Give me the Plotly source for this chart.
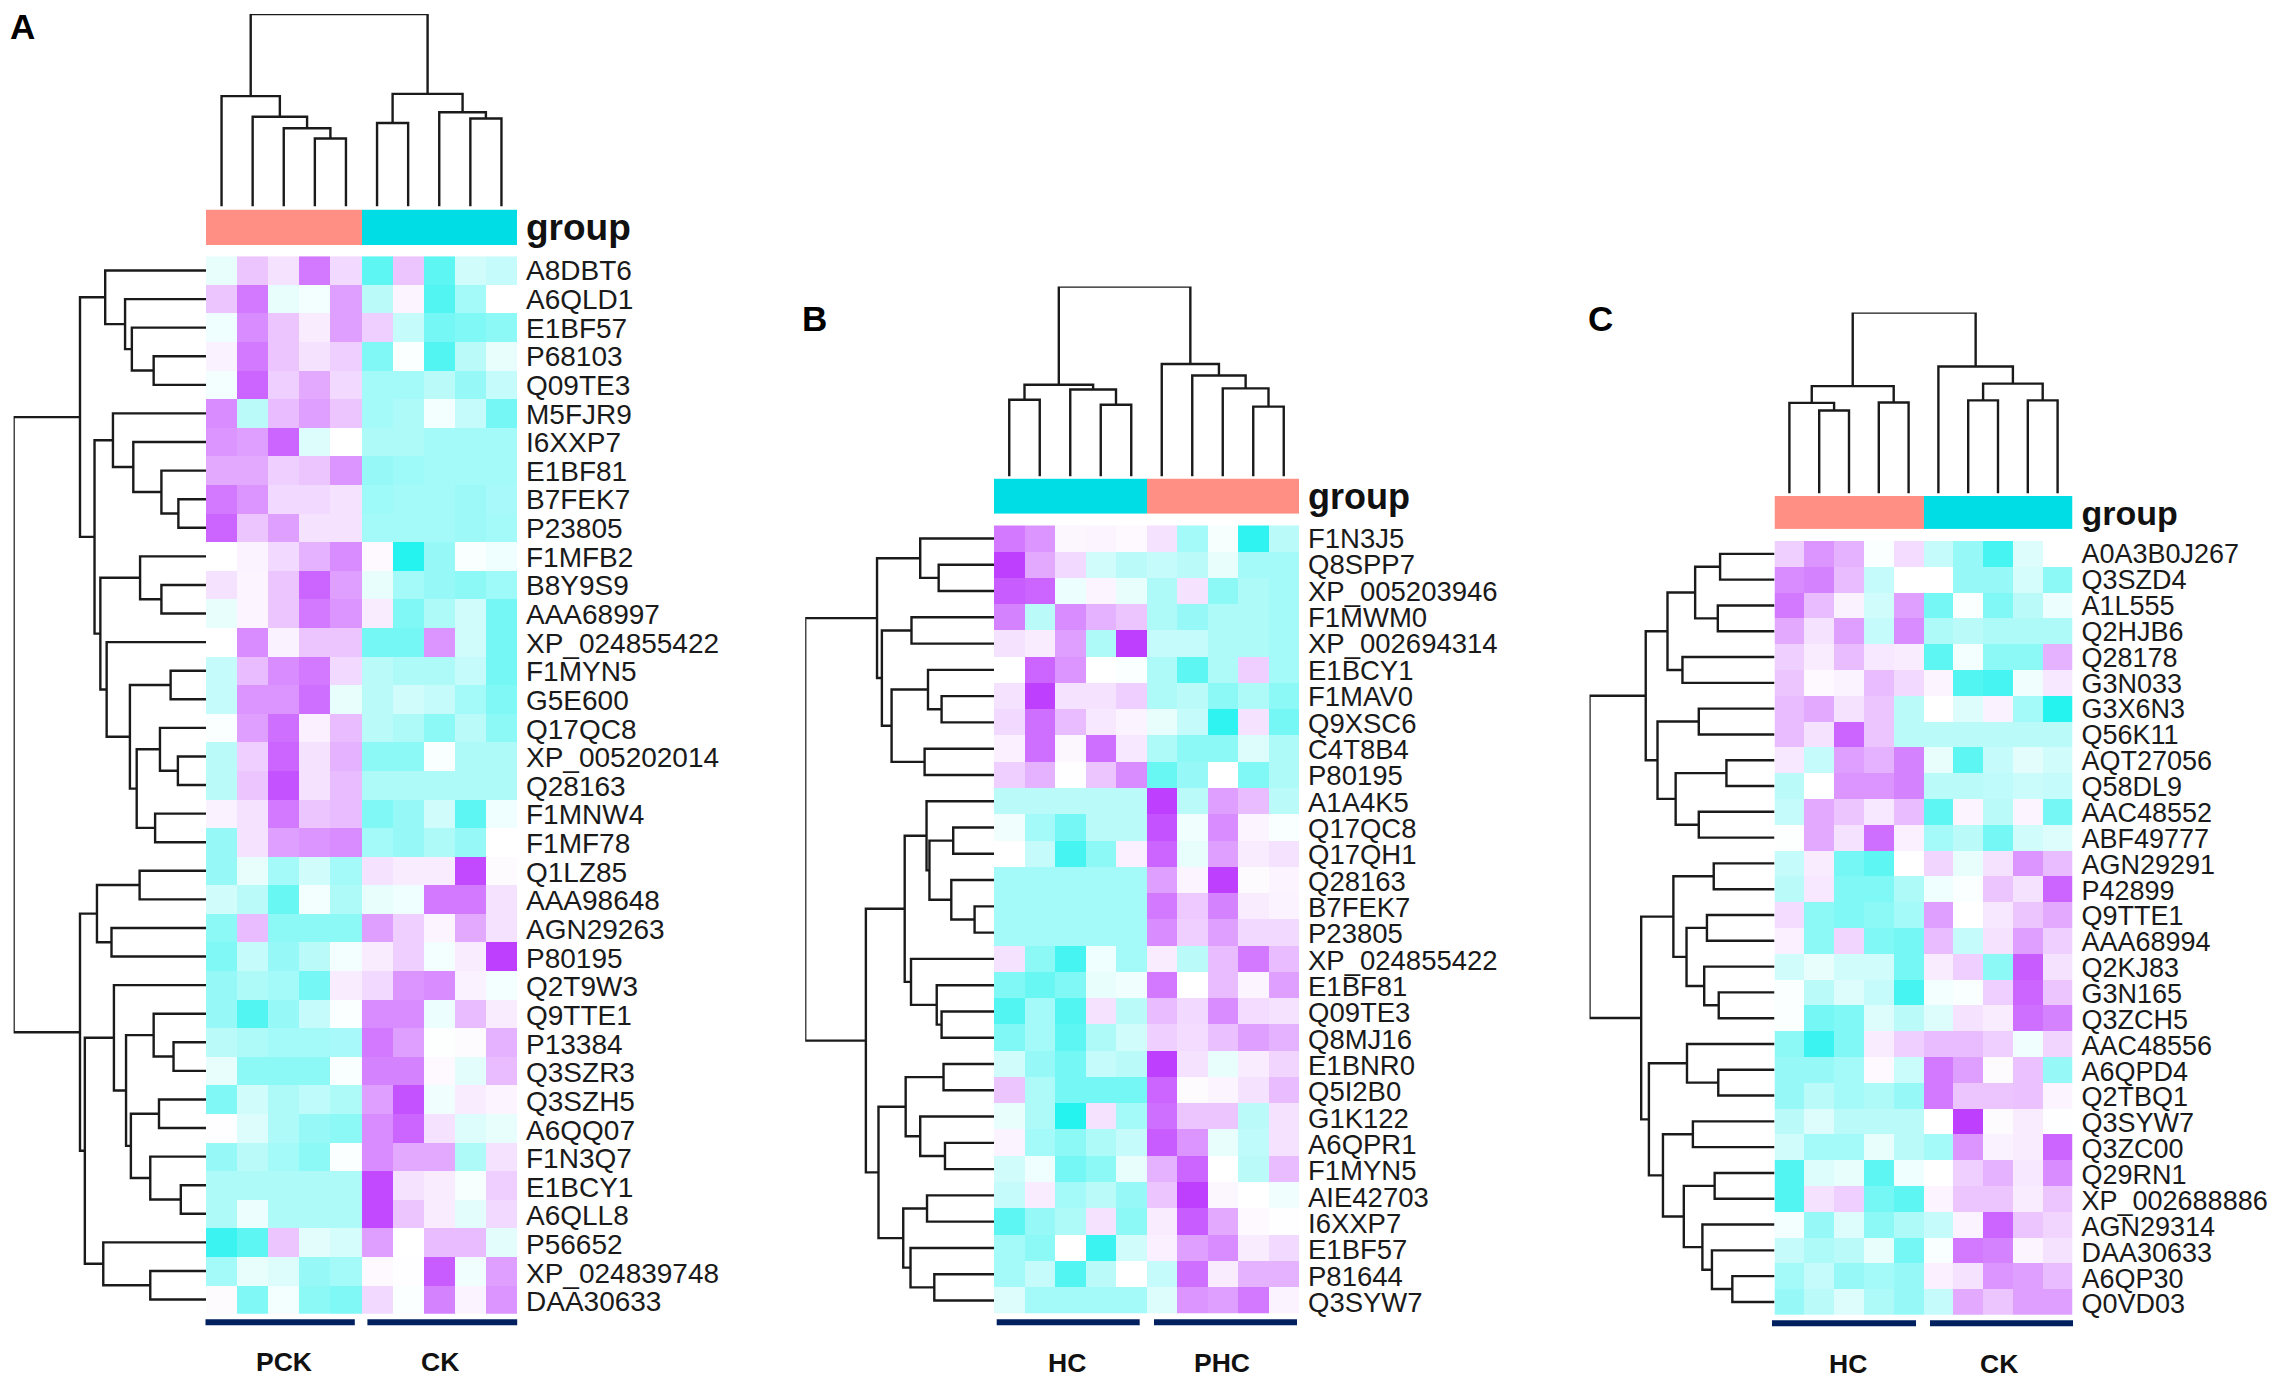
import plotly.graph_objects as go

W, H = 2281, 1383

# ---------- Panel A data ----------
A_labels = ["A8DBT6","A6QLD1","E1BF57","P68103","Q09TE3","M5FJR9","I6XXP7","E1BF81","B7FEK7","P23805",
            "F1MFB2","B8Y9S9","AAA68997","XP_024855422","F1MYN5","G5E600","Q17QC8","XP_005202014","Q28163",
            "F1MNW4","F1MF78","Q1LZ85","AAA98648","AGN29263","P80195","Q2T9W3","Q9TTE1","P13384","Q3SZR3",
            "Q3SZH5","A6QQ07","F1N3Q7","E1BCY1","A6QLL8","P56652","XP_024839748","DAA30633"]
A_values = [
 [-1,3,1.5,7,2,-7,3,-7,-2,-2.5],[3,7,-1,-.5,5,-3,.5,-7.5,-4,0],[-.7,6,3,1,5,2.5,-2.5,-6,-5.5,-5],
 [.7,7,3,1.5,2.5,-5.5,-.2,-7.5,-3,-1],[-.5,8,2.5,4.5,2,-4,-4,-3,-4.5,-2.5],[6,-3,3.5,5,3,-4,-3.5,-.5,-2.5,-6],
 [5.5,5,8,-1.5,0,-3.5,-3.5,-4,-4,-4],[4.5,4.5,2.5,3,5.5,-4.5,-4.2,-4,-4,-4],[7,5.5,2,2,1.5,-4.2,-4,-4,-4.3,-3.8],
 [8,3,5,1.5,1.5,-4,-4,-4,-4.3,-4],[0,.6,2,4,6,.3,-9.5,-4.5,-.3,-.7],[1.5,.5,3,8,5,-1,-4,-4.5,-5,-4.2],
 [-1,.5,3,7,5.5,1,-5.5,-3.5,-2,-6],[0,6,.7,3,3,-6,-6,5.5,-2,-6],[-2.5,3.5,6,7,2,-3,-3.5,-3.5,-2.5,-6],
 [-2.5,5.5,5.5,7.5,-1,-3,-2,-2.5,-4,-5.5],[-.2,5,7.5,.8,3.5,-3,-3.5,-5,-3,-5],[-3,2.5,8,1.5,4,-5,-5,-.3,-3.5,-3.5],
 [-3,3,9,1.5,3.5,-3.5,-3.5,-3.5,-3.5,-3.5],[.7,1.5,7,3,3.5,-5.5,-4.5,-2,-7,-.7],[-4.5,1.5,5,5.5,6,-4,-4.5,-3.5,-4.5,0],
 [-4.5,-1,-4,-2,-4,1.5,1,1,9.5,.2],[-2,-3,-6.5,-.5,-3.5,-1,-.7,7,7,1.5],[-5,3.5,-5,-5,-5,5,2.5,.5,4.5,1.5],
 [-5.5,-2.5,-4.5,-3,-.5,1,2.5,-.5,1,10],[-4.5,-3.5,-4,-6,1,2,5.5,6,.7,-.5],[-4.5,-7.5,-4.5,-2.5,-.2,6,6,-.8,3.5,1],
 [-3,-3.5,-4,-4,-3.8,7,5,-.1,.2,4],[-1,-5,-5,-5,-.3,6.5,6.5,.3,-1.2,3.5],[-5.5,-2,-3.5,-2.8,-3.5,5,9,-.6,1,.5],
 [.1,-1.5,-3.5,-4.5,-5,6,8,1.5,-1.5,-1],[-4.5,-3,-4,-5,-.2,6,4.5,4.5,-3.5,1.5],[-3.5,-3.5,-3.5,-3.5,-3.5,9.5,1.5,1,-.4,2.5],
 [-3.5,-.8,-3.5,-3.5,-3.5,9.5,3,1,-1.2,2],[-8.5,-7,3,-1.2,-1.8,5,0,3.5,3.5,-1.2],[-4,-1,-1.5,-4.5,-4,.3,.1,8.5,-.6,5],
 [.2,-5.5,-.5,-5,-5.5,2,-.2,6.5,.6,5.5]]
A_groups = [1,1,1,1,1,0,0,0,0,0]
A_row_tree = (397,
  (260,
    (208,0,(167,1,(153,2,(108,3,4)))),
    (230,
      (192,5,(150,6,(92,7,(57,8,9)))),
      (218,
        (136,10,(92,11,12)),
        (205,13,(157,(73,14,15),(143,(95,16,(58,17,18)),(105,19,20))))))),
  (260,
    (225,(137,21,22),(195,23,24)),
    (250,
      (190,25,(165,(108,26,(67,27,28)),(155,(97,29,30),(115,31,(52,32,33))))),
      (212,34,(115,35,36)))))
A_col_tree = (431,(247,0,(201,1,(175,2,(152,3,4)))),(252,(187,5,6),(211,7,(197,8,9))))
A_bottom = ["PCK","CK"]

# ---------- Panel B data ----------
B_labels = ["F1N3J5","Q8SPP7","XP_005203946","F1MWM0","XP_002694314","E1BCY1","F1MAV0","Q9XSC6","C4T8B4","P80195",
            "A1A4K5","Q17QC8","Q17QH1","Q28163","B7FEK7","P23805","XP_024855422","E1BF81","Q09TE3","Q8MJ16",
            "E1BNR0","Q5I2B0","G1K122","A6QPR1","F1MYN5","AIE42703","I6XXP7","E1BF57","P81644","Q3SYW7"]
B_values = [
 [7,5.5,.4,.5,.3,1.5,-4,-.4,-9,-3],[10,4.5,2,-2,-3,-2.5,-3,-1,-4,-4],[8.5,8,-.8,.5,-1,-3.5,1.5,-5,-3.5,-4],
 [6.5,-3,6,4,3,-3.5,-4.5,-3.5,-3.5,-4],[1.5,1,5,-3.5,10,-2.5,-2.5,-3.5,-3.5,-4],[0,8,5.5,0,-.2,-3.5,-7,-3.5,2.5,-4],
 [1.5,10,1.5,1.5,2.5,-3.5,-3,-5,-3.5,-5],[2,7.5,3.5,1.2,.6,-1,-2.5,-9,1.5,-6],[.8,7.5,.4,7.5,1.2,-3.5,-5,-5,-1.5,-3.5],
 [2.5,4,.1,3,6,-6.5,-4.5,0,-5.5,-3.5],[-3,-3,-3,-3,-3,10,-3,5,3.5,-3],[-.6,-4,-6,-3,-3,9,-.6,6,.5,-.3],
 [0,-2.5,-8,-5,.8,8,-1,5,1,1.5],[-4,-4,-4,-4,-4,5,.5,10,.2,.5],[-4,-4,-4,-4,-4,7,2.8,6.5,1,.6],
 [-4,-4,-4,-4,-4,6,2.5,5,2,2],[1.5,-5,-8,-.7,-4,1,-3,3.5,7,3.5],[-5.5,-6.5,-5.5,-1,-.6,7,0,3.5,.5,5],
 [-7.5,-4,-7.5,1.5,-3,3.5,2,6,1.8,1.5],[-5.5,-4,-7,-3.5,-2,2.5,1.8,3.3,5,4],[-2,-4.5,-6,-2.5,-3,10,1.5,-1,1,2.2],
 [3,-3.5,-6,-6,-6,8,.2,.5,1.5,3.5],[-1,-3.5,-9.5,1.5,-4,7.5,3,3,-3,1.5],[.6,-4,-5,-3.5,-2.5,8.5,5.5,-1,-2.8,1.5],
 [-2,-.7,-6,-5,-1,4,8,0,-3,3.5],[-2.5,1,-4,-3,-4.5,3,10,.4,0,-.6],[-7,-4.5,-3.5,1.5,-5,1,8.5,4.5,.3,.1],
 [-4,-5,0,-8.5,-2,.8,5,6,1,2],[-4,-2.5,-7.5,-3,0,-2.5,7.5,1,4,4],[-1.5,-4,-4,-4,-4,-1.5,5.5,5,7,.6]]
B_groups = [0,0,0,0,0,1,1,1,1,1]
B_row_tree = (389,
  (241,
    (152,0,(114,1,2)),
    (231,(170,3,4),(211,(136,5,(108,6,7)),(143,8,9)))),
  (264,
    (184,
      (139,10,(133,(84,11,12),(88,13,(40,14,15)))),
      (171,16,(118,17,(108,18,19)))),
    (238,
      (182,(104,20,21),(152,22,(101,23,24))),
      (187,(138,25,26),(172,27,(123,28,29))))))
B_col_tree = (532,(257,(215,0,1),(244,2,(201,3,4))),(315,5,(283,6,(247,7,(196,8,9)))))
B_bottom = ["HC","PHC"]

# ---------- Panel C data ----------
C_labels = ["A0A3B0J267","Q3SZD4","A1L555","Q2HJB6","Q28178","G3N033","G3X6N3","Q56K11","AQT27056","Q58DL9",
            "AAC48552","ABF49777","AGN29291","P42899","Q9TTE1","AAA68994","Q2KJ83","G3N165","Q3ZCH5","AAC48556",
            "A6QPD4","Q2TBQ1","Q3SYW7","Q3ZC00","Q29RN1","XP_002688886","AGN29314","DAA30633","A6QP30","Q0VD03"]
C_values = [
 [2.5,5.5,4,-.2,1.8,-2.5,-4.5,-8,-1.5,0],[6,6.5,3.5,-2.5,0,0,-4.5,-4.5,-1.8,-5],[7,3.5,.7,-2,5,-6,-.2,-5.5,-3,-.8],
 [4.5,1.5,5,-2.5,6,-3.5,-3,-3.5,-3.5,-3.5],[2.5,1,3.5,1.2,1,-7,-.5,-5,-5,4],[3,.3,.6,3.5,2,.5,-7.5,-8,-.6,1.2],
 [3.5,4.5,1.5,3,-3,0,-1.5,.7,-4,-9.5],[3.5,1.5,8,3,-3,-3,-3,-3,-3,-3],[1.2,-2.5,5,4,6.5,-1,-7,-2.5,-1.2,-2],
 [-3,0,5.5,5.5,6.5,-3,-3,-2.8,-2.3,-2.5],[-2.5,4.5,3,1.2,3.5,-7,.5,-3,.5,-6],[-.1,4.5,1.5,7.5,.8,-4,-3,-6,-2,-1.5],
 [-2.5,1,-6,-7,0,2.2,-1,1.5,5.5,3.5],[-3,1.2,-5.5,-5.5,-3.5,-.7,-.2,3,1.5,8],[1.8,-5,-5.5,-5,-4,5,0,1.2,3,4.5],
 [.8,-5,2.2,-5.5,-6,3.5,-2.5,1.5,5,2.5],[-2,-1,-2,-2,-6,1,2.5,-5,8.5,1.5],[-.2,-3,-1.5,-2.5,-8,-.5,-.3,2.5,8,3],
 [-.2,-6,-5.5,-1.5,-3,-1.5,1.5,1,7.5,6.5],[-5,-8.5,-5.5,1,2.5,3.5,3.5,2.5,-.6,2.2],[-4.5,-4.5,-4,.3,-2.3,7,5,.2,3.2,-4.5],
 [-4.5,-3,-4,-3.5,-4.5,7,3,3,3.2,.5],[-3,-1.5,-3,-3,-3,0,10,.2,1,.1],[-2,-4,-4,-1,-3,-4,5.5,.7,1,8],
 [-7.5,-1.5,-1,-7,-.7,0,2.5,4,1.2,6],[-7.5,1.5,2.5,-6,-7,.5,3,3,1,3],[-.5,-4.5,-1.5,-5,-3.5,-2.5,.6,8,3,2.2],
 [-2.5,-3.5,-3,-1,-6,-.3,7,6.5,.5,1.5],[-4,-2.5,-4.5,-4,-4.5,.8,1.5,5.5,5,3.5],[-4.5,-3,-1.5,-3.5,-4.5,-2.5,4.5,3,5,5]]
C_groups = [1,1,1,1,1,0,0,0,0,0]
C_row_tree = (408,
  (284,
    (236,(175,(120,0,1),(125,2,3)),(203,4,5)),
    (258,(167,6,7),(218,(106,8,9),(167,10,11)))),
  (294,
    (223,(134,12,13),(194,(149,14,15),(155,16,(123,17,18)))),
    (277,
      (193,19,(124,20,21)),
      (246,(180,22,23),(200,(132,24,25),(159,26,(138,27,(93,28,29))))))))
C_col_tree = (506,(300,(253,0,(232,1,2)),(254,3,4)),(355,5,(307,(260,6,7),(260,8,9))))
C_bottom = ["HC","CK"]

# ---------- Layout geometry (pixels) ----------
GEOM = {
 "A": dict(letter=(10,24), heat=(206,517,254.5,1317.5), ann=(207.6,243.3), coltop=(11,204.5), rowleft=13.6,
           font=28, gfont=37, bars=[(205.5,354.8),(367.4,517.2)], bary=(1323,1329), centers=(283.6,439.7), laby=1366, drift=2),
 "B": dict(letter=(802,317), heat=(994,1299,525,1317.3), ann=(478,513.6), coltop=(285,476), rowleft=805.2,
           font=27.5, gfont=36, bars=[(996.7,1139.7),(1154,1297)], bary=(1323,1329), centers=(1067.4,1222), laby=1367, drift=2),
 "C": dict(letter=(1588,317), heat=(1774.5,2072.5,540.7,1318.5), ann=(495.4,529), coltop=(311,492.9), rowleft=1589.5,
           font=27, gfont=34, bars=[(1772,1916),(1930,2073)], bary=(1324,1330), centers=(1848,1999), laby=1368, drift=2),
}
COLORSCALE = [[0,"#18F2EE"],[.5,"#FFFFFF"],[1,"#BF3FFF"]]
LINE = dict(color="#1a1a1a", width=2.4)
FONT = "Liberation Sans"

def fx(p): return p / W
def fy(p): return 1 - p / H

def tree_segments(node):
    """Return (position, height, xs, ys) where xs follow leaf order and ys merge height."""
    if isinstance(node, int):
        return node, 0, [], []
    h, a, b = node
    pa, ha, xa, ya = tree_segments(a)
    pb, hb, xb, yb = tree_segments(b)
    xs = xa + xb + [pa, pa, pb, pb, None]
    ys = ya + yb + [ha, h, h, hb, None]
    return (pa + pb) / 2, h, xs, ys

fig = go.Figure()
layout = dict(width=W, height=H, autosize=False, margin=dict(l=0, r=0, t=0, b=0),
              paper_bgcolor="white", plot_bgcolor="white", showlegend=False,
              annotations=[], shapes=[])
ax = [0]

def new_axes(xdom, ydom, **ykw):
    ax[0] += 1
    n = ax[0]
    s = "" if n == 1 else str(n)
    off = dict(visible=False, fixedrange=True)
    layout["xaxis" + s] = dict(domain=xdom, anchor="y" + s, **off)
    layout["yaxis" + s] = dict(domain=ydom, anchor="x" + s, fixedrange=True, visible=False, **ykw)
    return "x" + s, "y" + s, "xaxis" + s, "yaxis" + s

def panel(key, labels, values, groups, row_tree, col_tree, bottom):
    g = GEOM[key]
    x0, x1, y0, y1 = g["heat"]
    n = len(labels)
    m = len(values[0])
    row_h = (y1 - y0) / n
    xdom = [fx(x0), fx(x1)]
    # heatmap
    xa, ya, xn, yn = new_axes(xdom, [fy(y1), fy(y0)])
    fig.add_trace(go.Heatmap(z=values, x=list(range(m)), y=list(range(n)), xaxis=xa, yaxis=ya,
                             colorscale=COLORSCALE, zmin=-10, zmax=10, showscale=False, hoverinfo="skip"))
    layout[xn]["range"] = [-.5, m - .5]
    layout[yn].update(range=[n - .5, -.5], visible=True, side="right", tickmode="array",
                      tickvals=[i + g["drift"] * i / (n - 1) / row_h for i in range(n)],
                      ticktext=labels, ticks="", showline=False, showgrid=False,
                      zeroline=False, ticklabelstandoff=8,
                      tickfont=dict(family=FONT, size=g["font"], color="#1a1a1a"))
    # annotation bar
    xa, ya, xn, yn = new_axes(xdom, [fy(g["ann"][1]), fy(g["ann"][0])])
    fig.add_trace(go.Heatmap(z=[groups], x=list(range(m)), y=[0], xaxis=xa, yaxis=ya, zmin=0, zmax=1,
                             colorscale=[[0,"#00DDE5"],[1,"#FF8F85"]], showscale=False, hoverinfo="skip"))
    layout[xn]["range"] = [-.5, m - .5]
    layout[yn].update(range=[-.5, .5], visible=True, side="right", tickmode="array", tickvals=[0],
                      ticktext=["group"], ticks="", showline=False, showgrid=False, zeroline=False,
                      ticklabelstandoff=8,
                      tickfont=dict(family=FONT, size=g["gfont"], color="#111111", weight="bold"))
    # column dendrogram
    xa, ya, xn, yn = new_axes(xdom, [fy(g["coltop"][1]), fy(g["coltop"][0])])
    _, root, xs, ys = tree_segments(col_tree)
    fig.add_trace(go.Scatter(x=xs, y=ys, mode="lines", line=LINE, xaxis=xa, yaxis=ya,
                             hoverinfo="skip", cliponaxis=False))
    layout[xn]["range"] = [-.5, m - .5]
    layout[yn]["range"] = [0, root]
    # row dendrogram
    xa, ya, xn, yn = new_axes([fx(g["rowleft"]), fx(x0)], [fy(y1), fy(y0)])
    _, root, ps, hs = tree_segments(row_tree)
    fig.add_trace(go.Scatter(x=hs, y=ps, mode="lines", line=LINE, xaxis=xa, yaxis=ya,
                             hoverinfo="skip", cliponaxis=False))
    layout[xn]["range"] = [root, 0]
    layout[yn]["range"] = [n - .5, -.5]
    # group bars and names
    for (b0, b1), c, name in zip(g["bars"], g["centers"], bottom):
        layout["shapes"].append(dict(type="rect", xref="paper", yref="paper", x0=fx(b0), x1=fx(b1),
                                     y0=fy(g["bary"][1]), y1=fy(g["bary"][0]),
                                     fillcolor="#002060", line_width=0))
        layout["annotations"].append(dict(text="<b>%s</b>" % name, xref="paper", yref="paper", x=fx(c),
                                          y=fy(g["laby"]), xanchor="center", yanchor="middle", showarrow=False,
                                          font=dict(family=FONT, size=26.5, color="#111111")))
    layout["annotations"].append(dict(text="<b>%s</b>" % key, xref="paper", yref="paper", x=fx(g["letter"][0]),
                                      y=fy(g["letter"][1]), xanchor="left", yanchor="middle", showarrow=False,
                                      xshift=-2, font=dict(family=FONT, size=35, color="#000000")))

panel("A", A_labels, A_values, A_groups, A_row_tree, A_col_tree, A_bottom)
panel("B", B_labels, B_values, B_groups, B_row_tree, B_col_tree, B_bottom)
panel("C", C_labels, C_values, C_groups, C_row_tree, C_col_tree, C_bottom)

fig.update_layout(**layout)
fig.write_html("out.html", config={"displayModeBar": False},
               post_script="document.body.style.margin='0';document.body.style.overflow='hidden';")
